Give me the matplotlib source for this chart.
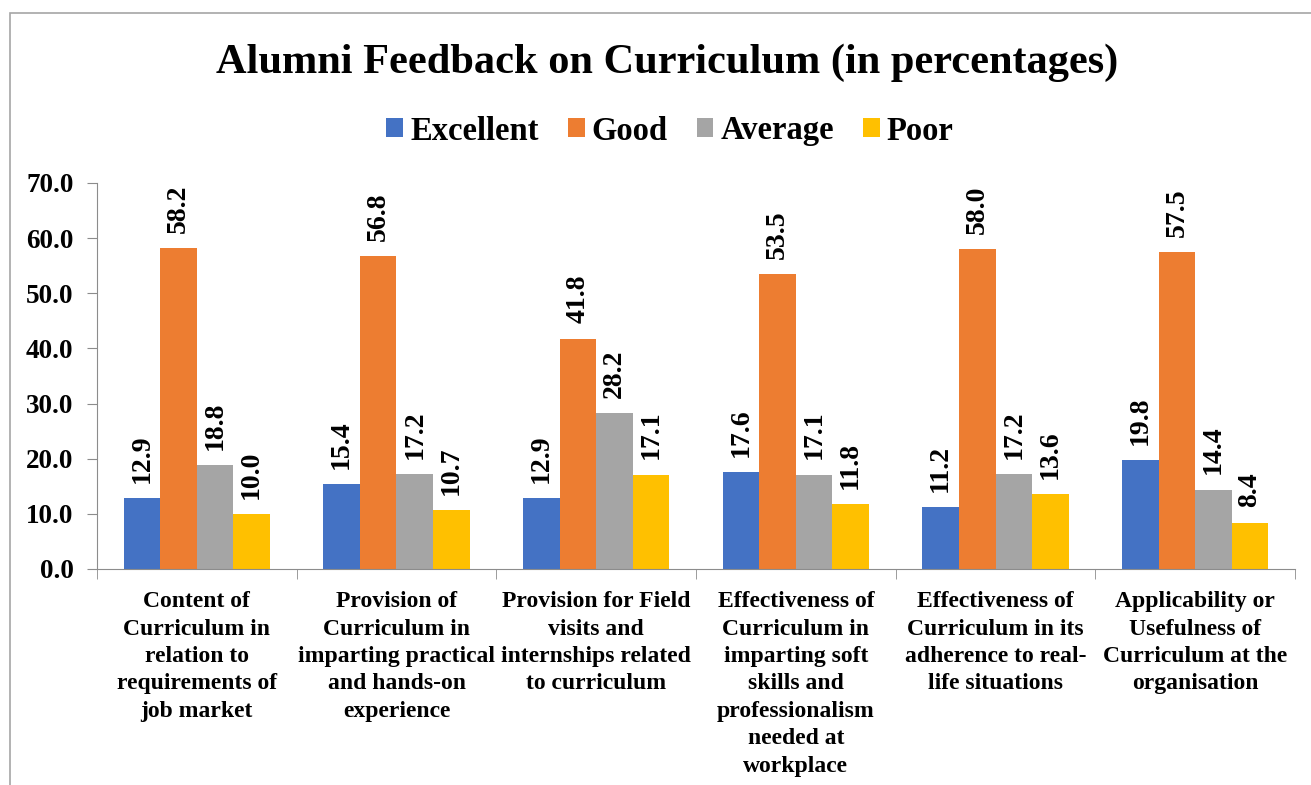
"""
Alumni feedback on curriculum - grouped bar chart.
"""
import matplotlib.pyplot as plt
import numpy as np
from matplotlib.patches import Rectangle

plt.rcParams['font.family'] = ['Liberation Serif', 'DejaVu Serif']
plt.rcParams['font.weight'] = 'bold'

# --- Data ---
categories = [
    "Content of\nCurriculum in\nrelation to\nrequirements of\njob market",
    "Provision of\nCurriculum in\nimparting practical\nand hands-on\nexperience",
    "Provision for Field\nvisits and\ninternships related\nto curriculum",
    "Effectiveness of\nCurriculum in\nimparting soft\nskills and\nprofessionalism\nneeded at\nworkplace",
    "Effectiveness of\nCurriculum in its\nadherence to real-\nlife situations",
    "Applicability or\nUsefulness of\nCurriculum at the\norganisation",
]
series_names = ['Excellent', 'Good', 'Average', 'Poor']
excellent = [12.9, 15.4, 12.9, 17.6, 11.2, 19.8]
good = [58.2, 56.8, 41.8, 53.5, 58.0, 57.5]
average = [18.8, 17.2, 28.2, 17.1, 17.2, 14.4]
poor = [10.0, 10.7, 17.1, 11.8, 13.6, 8.4]
colors = ['#4472C4', '#ED7D31', '#A5A5A5', '#FFC000']
y_ticks = [0, 10, 20, 30, 40, 50, 60, 70]

# --- Plotting ---
W, H = 1311, 785
fig = plt.figure(figsize=(W / 100, H / 100), dpi=100)
ax = fig.add_axes([97 / W, 1 - 569 / H, 1198 / W, 386 / H])

x = np.arange(len(categories))
bw = 0.183
axis_gray = '#8c8c8c'
for i, (name, vals) in enumerate(zip(series_names, [excellent, good, average, poor])):
    pos = x + (i - 1.5) * bw
    ax.bar(pos, vals, width=bw, color=colors[i], label=name, zorder=2)
    for xp, v in zip(pos, vals):
        ax.annotate(f'{v:.1f}', (xp, v), xytext=(0, 11), textcoords='offset points',
                    rotation=90, ha='center', va='bottom', fontsize=20,
                    fontweight='bold')

ax.set_xlim(-0.5, len(categories) - 0.5)
ax.set_ylim(0, 70)
ax.set_yticks(y_ticks)
ax.set_yticklabels([f'{t:.1f}' for t in y_ticks], fontsize=19.5, fontweight='bold')
ax.tick_params(axis='y', length=7, color=axis_gray, pad=10)

ax.set_xticks(x)
ax.set_xticklabels(categories, fontsize=17, fontweight='bold', linespacing=1.4)
ax.tick_params(axis='x', which='major', length=0, pad=16)
ax.set_xticks(np.arange(-0.5, len(categories)), minor=True)
ax.tick_params(axis='x', which='minor', length=7, color=axis_gray)

for s in ['top', 'right']:
    ax.spines[s].set_visible(False)
for s in ['left', 'bottom']:
    ax.spines[s].set_color(axis_gray)

fig.text(667 / W, 1 - 63 / H, 'Alumni Feedback on Curriculum (in percentages)',
         ha='center', va='center', fontsize=30.5, fontweight='bold')
fig.legend(loc='center', bbox_to_anchor=(670 / W, 1 - 131 / H), ncol=4,
           frameon=False, fontsize=23.5, handlelength=0.52, handleheight=0.52,
           handletextpad=0.21, columnspacing=0.89)

# outer frame (cropped at the right and bottom)
fig.patches.append(Rectangle((10 / W, -0.1), 2, 1 - 13 / H + 0.1,
                             transform=fig.transFigure, fill=False,
                             edgecolor='#a6a6a6', lw=1.2))

fig.savefig('out.png', dpi=100)
